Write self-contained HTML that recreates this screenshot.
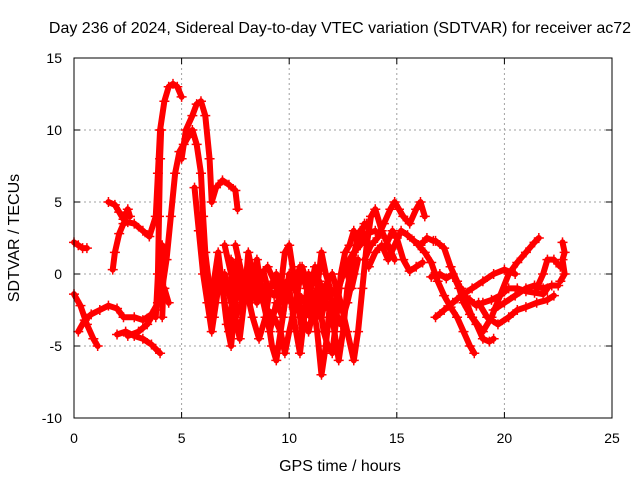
<!DOCTYPE html>
<html><head><meta charset="utf-8"><style>
body{margin:0;background:#fff}
svg{display:block;font-family:"Liberation Sans",sans-serif}
</style></head><body>
<svg id="chart" width="640" height="480" viewBox="0 0 640 480">
<text x="340" y="33" font-size="16" text-anchor="middle">Day 236 of 2024, Sidereal Day-to-day VTEC variation (SDTVAR) for receiver ac72</text>
<g id="grid"></g>
<g id="ticks"></g>
<g id="marks"></g>
<rect x="74" y="58" width="538" height="360" fill="none" stroke="#000" stroke-width="1"/>
<text x="340" y="471" font-size="16" text-anchor="middle">GPS time / hours</text>
<text transform="translate(19,238) rotate(-90)" font-size="16" text-anchor="middle">SDTVAR / TECUs</text>
</svg>
<script>
const xTicks=[0,5,10,15,20,25];
const yTicks=[-10,-5,0,5,10,15];
const s1=[[0,2.2],[0.2,2],[0.4,1.8],[0.6,1.8]];
const s2=[[0,-1.4],[0.3,-2.2],[0.6,-3.5],[0.9,-4.5],[1.1,-5]];
const s3=[[0.2,-4],[0.5,-3.2],[0.8,-2.8],[1.2,-2.5],[1.6,-2.2],[2,-2.4],[2.3,-3],[2.8,-3],[3.2,-3.2],[3.6,-2.8],[3.9,-2],[4.1,-1],[4.3,1],[4.5,4],[4.7,7],[4.9,8.5],[5.1,9],[5.3,9.5],[5.5,10],[5.7,9],[5.9,7],[6,4],[6.1,1.5],[6.3,-1],[6.5,-3]];
const s4=[[1.6,5],[1.9,4.8],[2.1,4.3],[2.3,3.8],[2.5,4.5],[2.6,4]];
const s5=[[1.8,0.3],[1.9,1.5],[2.1,2.8],[2.3,3.5],[2.5,3.6],[2.8,3.5],[3.2,3],[3.5,2.6],[3.8,4],[3.9,7],[4,10],[4.2,12],[4.4,13],[4.6,13.2],[4.8,13],[5,12.3]];
const s6=[[2,-4.2],[2.4,-4],[2.8,-4.3],[3.2,-4.5],[3.6,-4.9],[4,-5.5]];
const s7=[[2.5,-4.3],[3,-4],[3.4,-3.5],[3.8,-2.5],[4,-1.5],[4.2,-1],[4.4,-2]];
const s8=[[5,8],[5.2,10],[5.5,11],[5.7,11.8],[5.9,12],[6.1,11],[6.3,8],[6.4,5],[6.6,6],[6.9,6.5],[7.2,6.2],[7.5,5.8],[7.6,4.5]];
const s9=[[5.6,6],[5.8,3],[6,0],[6.2,-2],[6.4,-4],[6.6,-2],[6.8,0],[7,-2],[7.2,-4],[7.4,-1],[7.6,1],[7.8,-2]];
const s10=[[7,2],[7.3,0],[7.5,-3],[7.7,-4.5],[7.9,-2],[8.1,1.5],[8.3,0],[8.5,-2],[8.8,-1],[9,-3],[9.2,-5],[9.4,-6],[9.6,-4],[9.8,-2],[10,-1],[10.2,-3],[10.5,-5.5],[10.7,-3],[10.9,0],[11.1,-2],[11.3,-4],[11.5,-7],[11.7,-5],[11.9,-2],[12.1,-4],[12.3,-6],[12.5,-4],[12.7,-1],[12.9,0.5],[13.1,2],[13.3,3],[13.6,3.5]];
const s11=[[8,0],[8.2,-1],[8.5,-0.5],[8.8,0.2],[9,-1],[9.3,-1.5],[9.6,-0.5],[9.9,-1.5],[10.2,-2.3],[10.5,-1.5],[10.8,-2.2],[11,-3],[11.3,-1],[11.5,1.5],[11.7,0],[11.9,-1],[12.2,-1.5],[12.5,0],[12.8,1],[13,1.5],[13.3,2],[13.6,2.8],[14,3]];
const s12=[[7.2,-1],[7.5,-3],[7.8,-2],[8,-1],[8.3,-3],[8.6,-4.5],[8.9,-3],[9.1,-1],[9.4,0],[9.6,-1],[9.8,1.5],[10,2],[10.2,0],[10.4,-2],[10.6,-4],[10.8,-2],[11,-1],[11.2,0.5],[11.4,-2],[11.6,-4],[11.8,-5],[12,-5.5],[12.2,-3],[12.4,0],[12.6,1.5],[12.8,2],[13,3],[13.2,2],[13.5,3.5]];
const s13=[[7.3,1],[7.6,-1],[8,-1.5],[8.3,0],[8.6,-1.5],[9,-2.5],[9.3,-3],[9.6,-4],[9.8,-5.5],[10,-4],[10.3,-2],[10.6,0.5],[10.8,-0.5],[11,-2],[11.3,-3],[11.6,-1],[12,0],[12.4,-2],[12.7,-4],[13,-6],[13.2,-4],[13.4,-1],[13.6,2],[13.8,4],[14,4.5],[14.3,3],[14.6,2],[14.9,1]];
const s14=[[13.5,1],[13.8,2],[14.1,2.5],[14.4,3.5],[14.7,4.5],[14.9,5],[15.1,4.5],[15.3,4],[15.6,3.5],[15.9,4.5],[16.1,5],[16.3,4]];
const s15=[[13.7,0.5],[14,1.5],[14.3,2],[14.6,1],[14.9,2],[15.2,3],[15.5,2.7],[15.8,2.3],[16.1,2],[16.4,2.5],[16.7,2.3]];
const s16=[[14.5,2],[14.8,3],[15,2.5],[15.3,1],[15.6,0.2],[15.9,0.5],[16.2,0.8]];
const s17=[[16,2],[16.3,1.5],[16.6,0.8],[16.9,-0.5],[17.2,-1.5],[17.5,-2.3],[17.8,-3],[18.1,-4],[18.4,-5],[18.6,-5.5]];
const s18=[[16.6,-0.2],[17,0],[17.3,-0.3],[17.6,0],[17.9,-1],[18.1,-2],[18.4,-2.8],[18.7,-3.5],[19,-4.5],[19.3,-4.7],[19.5,-4.5]];
const s19=[[16.8,2.3],[17.2,1.8],[17.5,0.5],[17.8,-0.5],[18.1,-1.5],[18.4,-1.8],[18.7,-2.2],[19,-2],[19.4,-1.8],[19.8,-1.5],[20.2,-1],[20.6,-1],[21,-1.2],[21.4,-1.3],[21.8,-1.4],[22,-1]];
const s20=[[18,-1],[18.5,-3],[19,-4],[19.4,-3],[19.8,-1.5],[20.2,0],[20.6,0.8],[21,1.5],[21.4,2.2],[21.6,2.5]];
const s21=[[16.8,-3],[17.2,-2.5],[17.6,-2],[18,-1.5],[18.5,-1],[19,-0.5],[19.5,0],[20,0.3],[20.5,0]];
const s22=[[19.5,-2.5],[20,-2],[20.5,-1.5],[21,-1],[21.4,-0.8],[21.8,-1],[22.2,-0.8],[22.5,-0.8]];
const s23=[[18.8,-2],[19.2,-3],[19.7,-3.5],[20.2,-3],[20.6,-2.5],[21,-2.3],[21.5,-2],[22,-1.8],[22.3,-1.5]];
const s24=[[21.5,-1],[21.8,0],[22,1],[22.3,1],[22.6,0.5]];
const s25=[[22.7,2.2],[22.8,1.5],[22.7,1],[22.8,0],[22.6,-0.5]];
const s26=[[3.8,-3],[3.9,0],[3.95,4],[4.0,8],[4.05,10]];
const s27=[[4.1,-3],[4.15,-1],[4.1,2]];
const s28=[[7,0],[7.3,-2],[7.6,0.5],[7.9,-1],[8.2,-2],[8.5,1],[8.8,-2],[9.1,-4],[9.4,-2],[9.7,-3],[10,0],[10.3,-1],[10.6,-3],[10.9,-4],[11.2,-2],[11.5,-3],[11.8,-1],[12.1,-2.5],[12.4,-3.5],[12.7,-2],[13,0]];
const s29=[[7.5,2],[7.8,0],[8.1,-0.5],[8.4,-1.5],[8.7,0],[9,0.5],[9.3,-0.5],[9.6,-2],[9.9,-0.5],[10.2,-1],[10.5,0.5],[10.8,-1],[11.1,0],[11.4,-0.5],[11.7,-2],[12,-3],[12.3,-1],[12.6,0.5],[12.9,-1],[13.2,1]];
const s30=[[6.3,-3],[6.5,-0.5],[6.7,1.5],[6.9,-1],[7.1,-3.5],[7.3,-5],[7.5,-2],[7.7,0]];
const series=[s1,s2,s3,s4,s5,s6,s7,s8,s9,s10,s11,s12,s13,s14,s15,s16,s17,s18,s19,s20,s21,s22,s23,s24,s25,s26,s27,s28,s29,s30];

const X0=74,X1=612,Y0=418,Y1=58;
const xs=v=>X0+(v-0)/(25-0)*(X1-X0);
const ys=v=>Y0-(v+10)/(25)*(Y0-Y1);
const NS="http://www.w3.org/2000/svg";
const grid=document.getElementById('grid'),ticks=document.getElementById('ticks'),marks=document.getElementById('marks');
function mk(tag,attrs,parent){const e=document.createElementNS(NS,tag);for(const k in attrs)e.setAttribute(k,attrs[k]);parent.appendChild(e);return e;}
xTicks.forEach(t=>{
  const x=xs(t);
  if(t>0&&t<25){const g=mk('line',{x1:x,x2:x,y1:Y1,y2:Y0,stroke:'#a0a0a0','stroke-dasharray':'2,3'},grid);
  
  }
  mk('line',{x1:x,x2:x,y1:Y0,y2:Y0-6,stroke:'#000'},ticks);
  mk('line',{x1:x,x2:x,y1:Y1,y2:Y1+6,stroke:'#000'},ticks);
  const l=mk('text',{x:x,y:443,'font-size':14,'text-anchor':'middle'},ticks);l.textContent=t;
  
  
});
yTicks.forEach(t=>{
  const y=ys(t);
  if(t>-10&&t<15){const g=mk('line',{x1:X0,x2:X1,y1:y,y2:y,stroke:'#a0a0a0','stroke-dasharray':'2,3'},grid);
  
  }
  mk('line',{x1:X0,x2:X0+6,y1:y,y2:y,stroke:'#000'},ticks);
  mk('line',{x1:X1,x2:X1-6,y1:y,y2:y,stroke:'#000'},ticks);
  const l=mk('text',{x:62,y:y+5,'font-size':14,'text-anchor':'end'},ticks);l.textContent=t;
  
  
});
series.forEach((s,i)=>{
  const g=mk('g',{},marks);
  
  
  mk('polyline',{points:s.map(p=>xs(p[0])+','+ys(p[1])).join(' '),fill:'none',stroke:'#ff0000','stroke-width':6,'stroke-linejoin':'round','stroke-linecap':'round'},g);
  let d='';
  s.forEach(p=>{const x=xs(p[0]),y=ys(p[1]);d+=`M${x-5},${y}h10M${x},${y-5}v10`;});
  mk('path',{d:d,stroke:'#ff0000','stroke-width':1.5,fill:'none'},g);
});
</script>
</body></html>
